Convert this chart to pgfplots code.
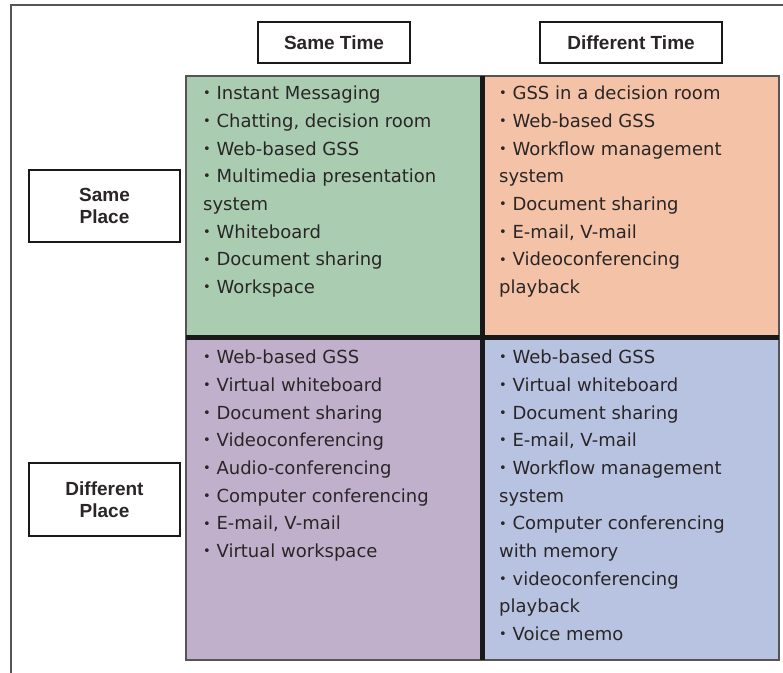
\documentclass[border=0pt]{standalone}
\usepackage{pgfplots}
\pgfplotsset{compat=1.18}
\usepackage{fontspec}
\setmainfont{DejaVu Sans}
\newfontfamily\labfont{Liberation Sans}
\definecolor{qgreen}{HTML}{AACDB2}
\definecolor{qorange}{HTML}{F4C2A6}
\definecolor{qpurple}{HTML}{C1B0CB}
\definecolor{qblue}{HTML}{B8C2E1}
\definecolor{txt}{HTML}{2A2627}
\definecolor{frame}{HTML}{555555}
\newcommand\bul{\raisebox{1.8pt}{\fontsize{13}{13}\selectfont•} }
\begin{document}
\begin{tikzpicture}
\begin{axis}[hide axis, scale only axis, width=783pt, height=672pt,
  xmin=0, xmax=783, ymin=0, ymax=672, y dir=reverse, clip=true]
% outer frame
\addplot[draw=frame, line width=1.5pt] coordinates {(11,720) (11,5) (820,5)};
% quadrants
\addplot[fill=qgreen, draw=frame, line width=1.2pt] coordinates {(186,76) (482,76) (482,337) (186,337)} --cycle;
\addplot[fill=qorange, draw=frame, line width=1.2pt] coordinates {(482,76) (779,76) (779,337) (482,337)} --cycle;
\addplot[fill=qpurple, draw=frame, line width=1.2pt] coordinates {(186,337) (482,337) (482,660) (186,660)} --cycle;
\addplot[fill=qblue, draw=frame, line width=1.2pt] coordinates {(482,337) (779,337) (779,660) (482,660)} --cycle;
% cross
\addplot[draw=black!90, line width=5pt] coordinates {(482,76) (482,660)};
\addplot[draw=black!90, line width=5pt] coordinates {(186,337) (779,337)};
% label boxes
\tikzset{lab/.style={draw=black!90, line width=1.5pt, fill=white, inner sep=0pt,
  text=txt, align=center, font=\labfont\bfseries\fontsize{19}{22.5}\selectfont}}
\node[lab, minimum width=152pt, minimum height=41pt] at (axis cs:334,42.5) {Same Time};
\node[lab, minimum width=182pt, minimum height=41pt] at (axis cs:631,42.5) {Different Time};
\node[lab, minimum width=151pt, minimum height=72pt] at (axis cs:104.5,206) {Same\\Place};
\node[lab, minimum width=151pt, minimum height=73pt] at (axis cs:104.5,499.5) {Different\\Place};
% items
\tikzset{items/.style={anchor=north west, inner sep=0pt, align=left, text=txt,
  font=\fontsize{18}{27.7}\selectfont}}
\node[items] at (axis cs:203,85.8) {\bul Instant Messaging\\\bul Chatting, decision room\\\bul Web-based GSS\\\bul Multimedia presentation\\system\\\bul Whiteboard\\\bul Document sharing\\\bul Workspace};
\node[items] at (axis cs:499,85.8) {\bul GSS in a decision room\\\bul Web-based GSS\\\bul Workflow management\\system\\\bul Document sharing\\\bul E-mail, V-mail\\\bul Videoconferencing\\playback};
\node[items] at (axis cs:203,349.8) {\bul Web-based GSS\\\bul Virtual whiteboard\\\bul Document sharing\\\bul Videoconferencing\\\bul Audio-conferencing\\\bul Computer conferencing\\\bul E-mail, V-mail\\\bul Virtual workspace};
\node[items] at (axis cs:499,349.8) {\bul Web-based GSS\\\bul Virtual whiteboard\\\bul Document sharing\\\bul E-mail, V-mail\\\bul Workflow management\\system\\\bul Computer conferencing\\with memory\\\bul videoconferencing\\playback\\\bul Voice memo};
\coordinate (bl) at (axis cs:0,672);
\coordinate (tr) at (axis cs:783,0);
\end{axis}
\pgfresetboundingbox
\path[use as bounding box] (bl) rectangle (tr);
\end{tikzpicture}
\end{document}
